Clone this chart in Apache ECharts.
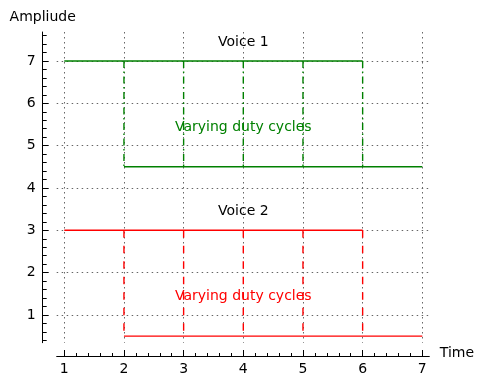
<!DOCTYPE html>
<html>
<head>
<meta charset="utf-8">
<script src="https://cdn.jsdelivr.net/npm/echarts@6/dist/echarts.min.js"></script>
<style>html,body{margin:0;padding:0;background:#fff;}#c{width:483px;height:386px;}</style>
</head>
<body>
<div id="c"></div>
<script>
// ---- data ----
const xTickLabels = [1, 2, 3, 4, 5, 6, 7];
const yTickLabels = [1, 2, 3, 4, 5, 6, 7];
const dutyEdges = [2, 3, 4, 5, 6];          // times of the vertical transitions
const voice1Top = [[1, 7], [6, 7]];
const voice1Bottom = [[2, 4.5], [7, 4.5]];
const voice1Levels = [7, 4.5];
const voice2Top = [[1, 3], [6, 3]];
const voice2Bottom = [[2, 0.5], [7, 0.5]];
const voice2Levels = [3, 0.5];
const labelTexts = ['Voice 1', 'Varying duty cycles', 'Voice 2', 'Varying duty cycles'];
const labelPoints = [[4, 7.5], [4, 5.5], [4, 3.5], [4, 1.5]];
const labelColors = ['#000000', '#008000', '#000000', '#ff0000'];

const GREEN = '#008000', RED = '#ff0000';
const FONT = 'DejaVu Sans';
const FS = 14;

const series = [];
function hline(data, color) {
  series.push({type: 'line', data: data, symbol: 'none', silent: true,
    lineStyle: {color: color, width: 1.4, opacity: 1}, z: 3});
}
function vlines(levels, color, dash) {
  dutyEdges.forEach(t => {
    series.push({type: 'line', data: [[t, levels[0]], [t, levels[1]]], symbol: 'none', silent: true,
      lineStyle: {color: color, width: 1.4, type: dash, opacity: 1}, z: 3});
  });
}
hline(voice1Top, GREEN);
hline(voice1Bottom, GREEN);
vlines(voice1Levels, GREEN, [7, 3.5, 1.5, 3.5]);
hline(voice2Top, RED);
hline(voice2Bottom, RED);
vlines(voice2Levels, RED, [7.5, 8]);

series.push({
  type: 'scatter', symbolSize: 0, silent: true, z: 5,
  itemStyle: {opacity: 1},
  data: labelPoints.map((p, i) => ({
    value: p,
    label: {show: true, position: 'inside', offset: [0, 2.5], formatter: labelTexts[i], opacity: 1,
      color: labelColors[i], fontSize: FS, fontFamily: FONT}
  }))
});

const chart = echarts.init(document.getElementById('c'), null, {renderer: 'canvas'});
chart.setOption({
  animation: false,
  backgroundColor: '#ffffff',
  grid: {left: 56.7, right: 53.7, top: 32, bottom: 43.3, containLabel: false},
  xAxis: {
    type: 'value', min: 0.873, max: 7.117, splitNumber: 6, offset: 13.3,
    name: 'Time', nameLocation: 'end', nameGap: 10.5,
    nameTextStyle: {color: '#000', fontSize: FS, fontFamily: FONT, verticalAlign: 'bottom', lineHeight: 6},
    axisLine: {show: true, onZero: false, lineStyle: {color: '#000', width: 1}},
    axisTick: {show: true, inside: true, length: 6, customValues: xTickLabels, lineStyle: {color: '#000'}},
    minorTick: {show: true, splitNumber: 5, length: 3, lineStyle: {color: '#000'}},
    axisLabel: {customValues: xTickLabels, color: '#000', fontSize: FS, fontFamily: FONT, margin: 6},
    splitLine: {show: true, lineStyle: {color: '#666', width: 1, type: [1.5, 3.5]}},
    minorSplitLine: {show: false}
  },
  yAxis: {
    type: 'value', min: 0.345, max: 7.685, splitNumber: 7, offset: 14,
    name: 'Ampliude', nameLocation: 'end', nameGap: 8,
    nameTextStyle: {color: '#000', fontSize: FS, fontFamily: FONT},
    axisLine: {show: true, onZero: false, lineStyle: {color: '#000', width: 1}},
    axisTick: {show: true, inside: true, length: 6, customValues: yTickLabels, lineStyle: {color: '#000'}},
    minorTick: {show: true, splitNumber: 5, length: 4, lineStyle: {color: '#000'}},
    axisLabel: {customValues: yTickLabels, color: '#000', fontSize: FS, fontFamily: FONT, margin: 7},
    splitLine: {show: true, lineStyle: {color: '#666', width: 1, type: [1.5, 3.5]}},
    minorSplitLine: {show: false}
  },
  series: series
});
</script>
</body>
</html>
